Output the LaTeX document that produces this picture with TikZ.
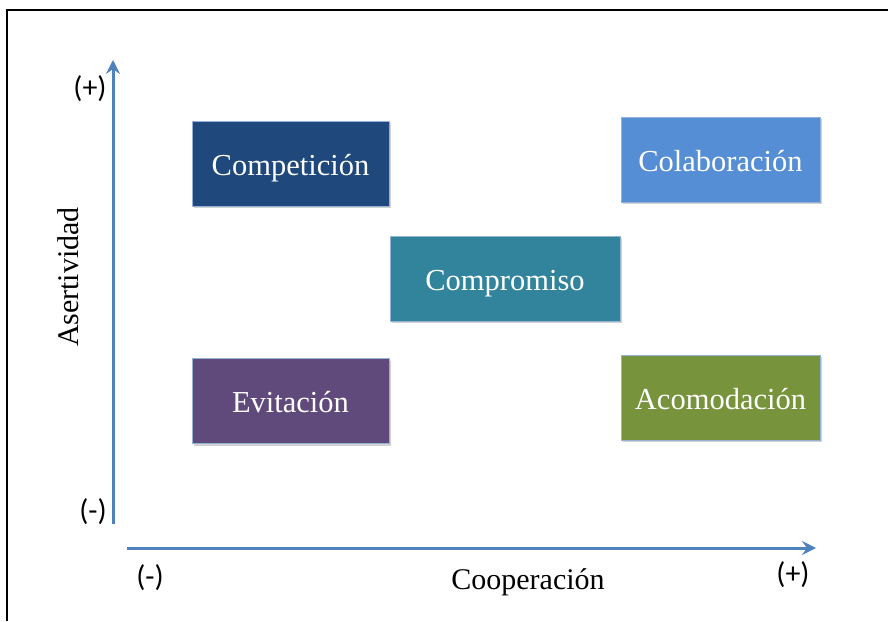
\documentclass[tikz,border=0pt]{standalone}
\usepackage{fontspec}
\setmainfont{Liberation Serif}
\newfontfamily\signfont{Carlito}
\usetikzlibrary{arrows.meta,shadows}
\definecolor{axisblue}{HTML}{4F81BD}
\definecolor{boxline}{HTML}{95B3D7}
\definecolor{cCompet}{HTML}{1F497D}
\definecolor{cColab}{HTML}{558ED5}
\definecolor{cCompro}{HTML}{31849B}
\definecolor{cEvit}{HTML}{604A7B}
\definecolor{cAcom}{HTML}{77933C}
\tikzset{
  stylebox/.style={draw=boxline, line width=0.8pt, minimum width=#1, minimum height=85pt,
    text=white, font=\fontsize{30.5}{34}\selectfont, inner sep=0pt,
    text height=27pt, text depth=4pt,
    drop shadow={shadow xshift=2pt, shadow yshift=-2pt, fill=black!35, opacity=0.5}},
  axisline/.style={draw=axisblue, line width=3pt,
    -{Stealth[length=14pt,width=14pt,inset=5pt]}},
  sign/.style={font=\signfont\fontsize{30}{34}\selectfont, inner sep=0pt},
  axislabel/.style={font=\fontsize{30}{34}\selectfont, inner sep=0pt}
}
\begin{document}
\begin{tikzpicture}[x=1pt, y=-1pt]
  \useasboundingbox (0,0) rectangle (888,621);
  % frame
  \draw[line width=1.2pt] (7,621) -- (7,10) -- (888,10);
  % axes
  \coordinate (ybot) at (113,524);
  \coordinate (ytop) at (113,60);
  \coordinate (xleft) at (127,548);
  \coordinate (xright) at (816,548);
  \draw[axisline] (ybot) -- (ytop);
  \draw[axisline] (xleft) -- (xright);
  % axis signs
  \node[sign] (yplus) at (90,89) {(+)};
  \node[sign] (yminus) at (93,512) {(-)};
  \node[sign] (xminus) at (150,578) {(-)};
  \node[sign] (xplus) at (793,575) {(+)};
  % axis titles
  \node[axislabel, rotate=90] (yname) at (68,277) {Asertividad};
  \node[axislabel] (xname) at (528,582) {Cooperación};
  % conflict styles
  \node[stylebox=197pt, fill=cCompet] (compet) at (290.5,163.5) {Competición};
  \node[stylebox=199pt, fill=cColab] (colab) at (720.5,159.5) {Colaboración};
  \node[stylebox=230pt, fill=cCompro] (compro) at (505,278.5) {Compromiso};
  \node[stylebox=197pt, fill=cEvit] (evit) at (290.5,401) {Evitación};
  \node[stylebox=199pt, fill=cAcom] (acom) at (720.5,397.5) {Acomodación};
\end{tikzpicture}
\end{document}
